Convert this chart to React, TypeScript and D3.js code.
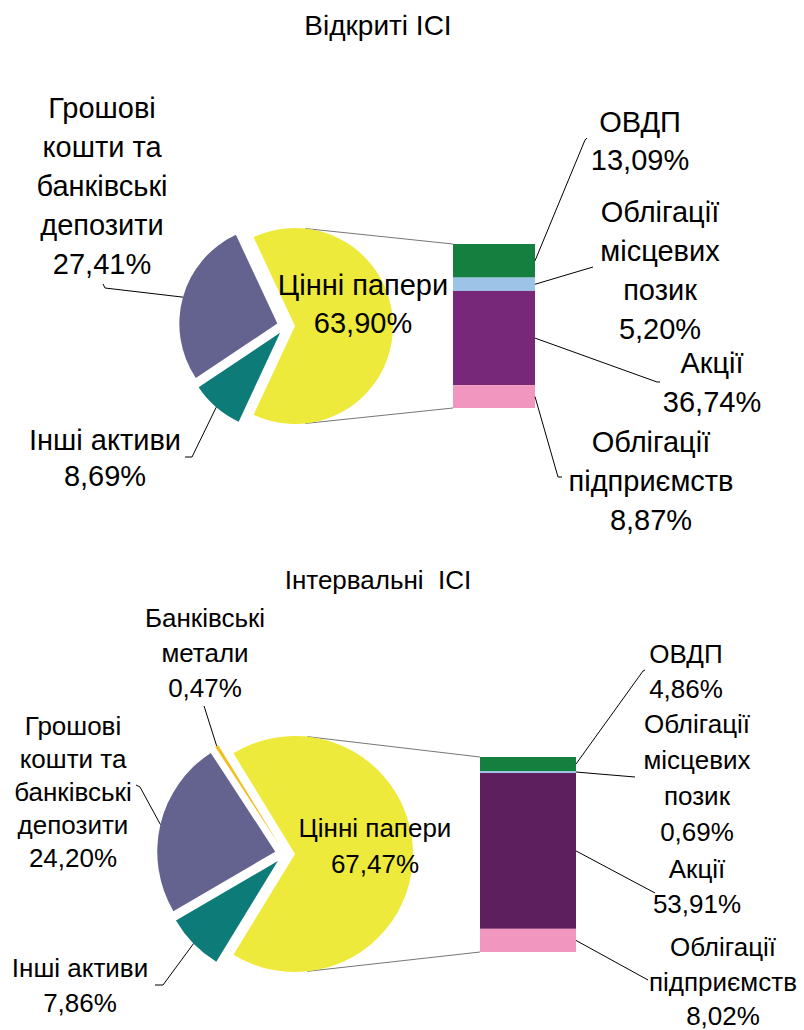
import * as d3 from 'd3';

// Відкриті ІСІ
const openPieNames = [['Цінні папери'], ['Інші активи'], ['Грошові', 'кошти та', 'банківські', 'депозити']];
const openPieValues = [63.9, 8.69, 27.41];
const openBarNames = [['ОВДП'], ['Облігації', 'місцевих', 'позик'], ['Акції'], ['Облігації', 'підприємств']];
const openBarValues = [13.09, 5.2, 36.74, 8.87];

// Інтервальні ІСІ
const intPieNames = [['Цінні папери'], ['Інші активи'], ['Грошові', 'кошти та', 'банківські', 'депозити'], ['Банківські', 'метали']];
const intPieValues = [67.47, 7.86, 24.2, 0.47];
const intBarNames = [['ОВДП'], ['Облігації', 'місцевих', 'позик'], ['Акції'], ['Облігації', 'підприємств']];
const intBarValues = [4.86, 0.69, 53.91, 8.02];

const pieColors = ['#EEEA3C', '#0D7C79', '#64638F', '#F2BF1F'];
const openBarColors = ['#157F3F', '#9DC3E6', '#772878', '#F196BF'];
const intBarColors = ['#157F3F', '#9DC3E6', '#5E1F5E', '#F196BF'];

type Pt = [number, number];
interface Lbl { x: number; y: number; lh?: number; lead?: Pt[] }
interface Layout {
  title: string; titleY: number; titleSize: number;
  cx: number; cy: number; r: number; explode: number;
  barX: number; barW: number; barTop: number; barBottom: number;
  font: number; lh: number;
  pieLabels: Lbl[]; barLabels: Lbl[];
}

const openLayout: Layout = {
  title: 'Відкриті ІСІ', titleY: 35, titleSize: 28,
  cx: 286, cy: 326, r: 98, explode: 9,
  barX: 453, barW: 82, barTop: 244, barBottom: 408,
  font: 29, lh: 39,
  pieLabels: [
    { x: 363, y: 295, lh: 38 },
    { x: 105, y: 450, lh: 36 },
    { x: 102, y: 118 },
  ],
  barLabels: [
    { x: 640, y: 132, lh: 38, lead: [[587, 138], [585, 140]] },
    { x: 660, y: 222, lead: [[593, 267]] },
    { x: 712, y: 373, lead: [[660, 382], [657, 382]] },
    { x: 651, y: 452, lead: [[562, 477], [558, 477]] },
  ],
};
openLayout.pieLabels[1].lead = [[185, 457], [192, 457]];
openLayout.pieLabels[2].lead = [[103, 284], [105, 288]];

const intLayout: Layout = {
  title: 'Інтервальні  ІСІ', titleY: 589, titleSize: 26,
  cx: 285, cy: 854, r: 118, explode: 10,
  barX: 480, barW: 96, barTop: 757, barBottom: 952,
  font: 26, lh: 35,
  pieLabels: [
    { x: 375, y: 837, lh: 36 },
    { x: 80, y: 977, lead: [[155, 985], [163, 985]] },
    { x: 73, y: 735, lh: 33, lead: [[136, 785], [140, 787]] },
    { x: 205, y: 627, lead: [[204, 706], [205, 709]] },
  ],
  barLabels: [
    { x: 686, y: 663, lead: [[645, 670], [643, 671]] },
    { x: 697, y: 733, lh: 36, lead: [[635, 777]] },
    { x: 697, y: 878, lead: [[655, 893]] },
    { x: 723, y: 956, lh: 34.5, lead: [[648, 980]] },
  ],
};

const fmt = (v: number) => v.toFixed(2).replace('.', ',') + '%';
const FONT = '"Liberation Sans", Arial, sans-serif';

function MultiText({ x, y, lines, size, lh }: { x: number; y: number; lines: string[]; size: number; lh: number }) {
  return (
    <text x={x} y={y} textAnchor="middle" fontSize={size} fontFamily={FONT} fill="#000" style={{ whiteSpace: 'pre' }}>
      {lines.map((l, i) => (
        <tspan key={i} x={x} y={y + i * lh}>{l}</tspan>
      ))}
    </text>
  );
}

function PieOfBar({ L, names, values, barNames, barValues, barColors }: {
  L: Layout; names: string[][]; values: number[]; barNames: string[][]; barValues: number[]; barColors: string[];
}) {
  const total = d3.sum(values);
  const mainSpan = (values[0] / total) * 2 * Math.PI;
  const start = Math.PI / 2 - mainSpan / 2;
  const pie = d3.pie<number>().sort(null).value(d => d).startAngle(start).endAngle(start + 2 * Math.PI);
  const arcs = pie(values);
  const arc = d3.arc<d3.PieArcDatum<number>>().innerRadius(0).outerRadius(L.r);

  const offset = (a: d3.PieArcDatum<number>, k: number): Pt => {
    const m = (a.startAngle + a.endAngle) / 2;
    return [L.cx + k * Math.sin(m), L.cy - k * Math.cos(m)];
  };

  // stacked bar, top to bottom
  const y = d3.scaleLinear().domain([0, d3.sum(barValues)]).range([L.barTop, L.barBottom]);
  const cum = d3.cumsum(barValues);
  const segs = barValues.map((v, i) => ({ v, y0: y(cum[i] - v), y1: y(cum[i]) }));

  // series lines from the split slice to the bar
  const mc = offset(arcs[0], L.explode);
  const a1 = (6 * Math.PI) / 180;
  const a2 = (174 * Math.PI) / 180;
  const p1: Pt = [mc[0] + L.r * Math.sin(a1), mc[1] - L.r * Math.cos(a1)];
  const p2: Pt = [mc[0] + L.r * Math.sin(a2), mc[1] - L.r * Math.cos(a2)];
  const line = d3.line();

  return (
    <g>
      <text x={378} y={L.titleY} textAnchor="middle" fontSize={L.titleSize} fontFamily={FONT} style={{ whiteSpace: 'pre' }}>{L.title}</text>
      <path d={line([p1, [L.barX, L.barTop]]) || ''} stroke="#666" strokeWidth={0.9} fill="none" />
      <path d={line([p2, [L.barX, L.barBottom]]) || ''} stroke="#666" strokeWidth={0.9} fill="none" />
      {arcs.map((a, i) => {
        const [ox, oy] = offset(a, L.explode);
        return <path key={i} d={arc(a) || ''} transform={`translate(${ox},${oy})`} fill={pieColors[i]} />;
      })}
      {segs.map((s, i) => (
        <rect key={i} x={L.barX} y={s.y0} width={L.barW} height={Math.max(0, s.y1 - s.y0)} fill={barColors[i]} />
      ))}
      {arcs.map((a, i) => {
        const lb = L.pieLabels[i];
        const lines = [...names[i], fmt(values[i])];
        const end = offset(a, L.explode + L.r);
        return (
          <g key={'pl' + i}>
            {lb.lead && <path d={line([...lb.lead, end]) || ''} stroke="#000" strokeWidth={1} fill="none" />}
            <MultiText x={lb.x} y={lb.y} lines={lines} size={L.font} lh={lb.lh ?? L.lh} />
          </g>
        );
      })}
      {segs.map((s, i) => {
        const lb = L.barLabels[i];
        const lines = [...barNames[i], fmt(s.v)];
        const end: Pt = [L.barX + L.barW, (s.y0 + s.y1) / 2];
        return (
          <g key={'bl' + i}>
            {lb.lead && <path d={line([...lb.lead, end]) || ''} stroke="#000" strokeWidth={1} fill="none" />}
            <MultiText x={lb.x} y={lb.y} lines={lines} size={L.font} lh={lb.lh ?? L.lh} />
          </g>
        );
      })}
    </g>
  );
}

export default function App() {
  return (
    <svg width={804} height={1030} style={{ position: 'absolute', left: 0, top: 0, background: '#fff' }}>
      <rect width={804} height={1030} fill="#fff" />
      <PieOfBar L={openLayout} names={openPieNames} values={openPieValues} barNames={openBarNames} barValues={openBarValues} barColors={openBarColors} />
      <PieOfBar L={intLayout} names={intPieNames} values={intPieValues} barNames={intBarNames} barValues={intBarValues} barColors={intBarColors} />
    </svg>
  );
}
